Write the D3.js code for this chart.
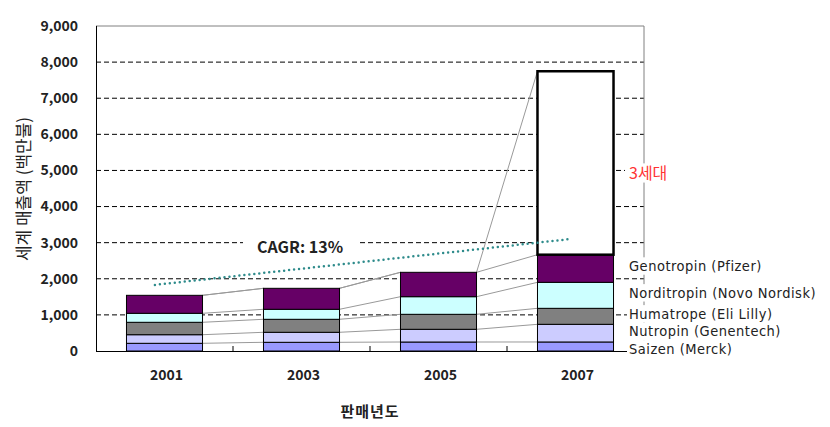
<!DOCTYPE html>
<html>
<head>
<meta charset="utf-8">
<script src="https://cdn.jsdelivr.net/npm/d3@7"></script>
<style>
  body { margin: 0; background: #fff; }
  text { font-family: "Noto Sans CJK KR", "Noto Sans", sans-serif; }
  text.series { font-family: "DejaVu Sans Condensed", "Liberation Sans", sans-serif; font-stretch: condensed; letter-spacing: 0.5px; }
</style>
</head>
<body>
<script>
const years = ["2001", "2003", "2005", "2007"];
const seriesNames = [
  "Saizen (Merck)",
  "Nutropin (Genentech)",
  "Humatrope (Eli Lilly)",
  "Norditropin (Novo Nordisk)",
  "Genotropin (Pfizer)",
];
const saizen = [213, 241, 249, 250];
const nutropin = [238, 277, 352, 489];
const humatrope = [344, 360, 415, 443];
const norditropin = [249, 277, 488, 720];
const genotropin = [498, 581, 675, 765];
const thirdGen = [0, 0, 0, 5080];
const yTicks = [0, 1000, 2000, 3000, 4000, 5000, 6000, 7000, 8000, 9000];
// CAGR trend line ends: [year, value]
const cagrLine = [[2000.86, 1830], [2006.92, 3100]];
const cagrLabel = "CAGR: 13%";
const thirdGenLabel = "3세대";

const w = 830;
const h = 427;
const plot = { left: 96, top: 26, right: 644, bottom: 351 };
const colors = ["#9999ff", "#ccccff", "#808080", "#ccffff", "#660066"];

const svg = d3.select("body").append("svg").attr("width", w).attr("height", h);

// table for d3.stack
const keys = ["s0", "s1", "s2", "s3", "s4", "third"];
const cols = [saizen, nutropin, humatrope, norditropin, genotropin, thirdGen];
const table = years.map((y, i) => {
  const row = { year: y };
  keys.forEach((k, j) => (row[k] = cols[j][i]));
  return row;
});
const stacked = d3.stack().keys(keys)(table);

const x = d3.scaleBand().domain(years)
  .range([plot.left, plot.right])
  .paddingInner(0.445).paddingOuter(0.2225);
const y = d3.scaleLinear().domain([0, 9000]).range([plot.bottom, plot.top]);
const xYear = d3.scaleLinear()
  .domain([+years[0], +years[years.length - 1]])
  .range([x(years[0]) + x.bandwidth() / 2, x(years[3]) + x.bandwidth() / 2]);

// gridlines
svg.append("g").selectAll("line")
  .data(yTicks.filter((d) => d > 0 && d < 9000))
  .enter().append("line")
  .attr("x1", plot.left).attr("x2", plot.right)
  .attr("y1", (d) => y(d)).attr("y2", (d) => y(d))
  .attr("stroke", "#000").attr("stroke-dasharray", "5,3");

// plot border top/right
svg.append("path")
  .attr("d", `M${plot.left},${plot.top}H${plot.right}V${plot.bottom}`)
  .attr("fill", "none").attr("stroke", "#808080");

// series lines between bars
const bw = x.bandwidth();
stacked.forEach((layer) => {
  for (let i = 0; i < years.length - 1; i++) {
    svg.append("line")
      .attr("x1", x(years[i]) + bw).attr("y1", y(layer[i][1]))
      .attr("x2", x(years[i + 1])).attr("y2", y(layer[i + 1][1]))
      .attr("stroke", "#999").attr("stroke-width", 1);
  }
});

// bars
stacked.forEach((layer, j) => {
  const isThird = layer.key === "third";
  svg.append("g").selectAll("rect")
    .data(layer.filter((d) => d[1] - d[0] > 0))
    .enter().append("rect")
    .attr("x", (d) => x(d.data.year))
    .attr("width", bw)
    .attr("y", (d) => y(d[1]))
    .attr("height", (d) => y(d[0]) - y(d[1]))
    .attr("fill", isThird ? "#fff" : colors[j])
    .attr("stroke", "#000")
    .attr("stroke-width", isThird ? 2.5 : 1);
});

// axes
svg.append("g")
  .attr("transform", `translate(0,${plot.bottom})`)
  .call(d3.axisBottom(x).tickSize(0).tickFormat(() => ""))
  .call((g) => g.select(".domain").attr("stroke", "#000")
    .attr("d", `M${plot.left},0.5H${plot.right}`));
// inner ticks between categories
svg.append("g").selectAll("line")
  .data(years.slice(1))
  .enter().append("line")
  .attr("x1", (d) => x(d) - x.step() * x.paddingInner() / 2)
  .attr("x2", (d) => x(d) - x.step() * x.paddingInner() / 2)
  .attr("y1", plot.bottom).attr("y2", plot.bottom - 5)
  .attr("stroke", "#000");

svg.append("line")
  .attr("x1", plot.left + 0.5).attr("x2", plot.left + 0.5)
  .attr("y1", plot.top).attr("y2", plot.bottom + 0.5)
  .attr("stroke", "#000");

svg.append("g").selectAll("text")
  .data(yTicks).enter().append("text")
  .attr("x", 78).attr("y", (d) => y(d))
  .attr("dy", "0.35em").attr("text-anchor", "end")
  .attr("font-size", 14).attr("font-weight", "bold").attr("fill", "#222")
  .text(d3.format(","));

svg.append("g").selectAll("text")
  .data(years).enter().append("text")
  .attr("x", (d) => x(d) + bw / 2 + 2).attr("y", 375)
  .attr("dy", "0.35em").attr("text-anchor", "middle")
  .attr("font-size", 14).attr("font-weight", "bold").attr("fill", "#222")
  .text((d) => d);

// axis titles
svg.append("text")
  .attr("transform", "translate(24,189) rotate(-90)")
  .attr("dy", "0.35em").attr("text-anchor", "middle")
  .attr("font-size", 17).attr("fill", "#222")
  .text("세계 매출액 (백만불)");
svg.append("text")
  .attr("x", 370).attr("y", 412).attr("dy", "0.35em")
  .attr("text-anchor", "middle").attr("letter-spacing", 1)
  .attr("font-size", 15).attr("font-weight", "bold").attr("fill", "#222")
  .text("판매년도");

// CAGR dotted trend
svg.append("line")
  .attr("x1", xYear(cagrLine[0][0])).attr("y1", y(cagrLine[0][1]))
  .attr("x2", xYear(cagrLine[1][0])).attr("y2", y(cagrLine[1][1]))
  .attr("stroke", "#2e8b8b").attr("stroke-width", 2.5)
  .attr("stroke-linecap", "round").attr("stroke-dasharray", "0,5");

// text with a tight white box behind it (hides gridlines)
function labelWithBg(tx, ty, str, opts) {
  const g = svg.append("g");
  const t = g.append("text")
    .attr("class", opts.cls || null)
    .attr("x", tx).attr("y", ty).attr("dy", "0.35em")
    .attr("font-size", opts.size).attr("fill", opts.color)
    .attr("font-weight", opts.weight || "normal")
    .text(str);
  const b = t.node().getBBox();
  const padX = opts.padX || 2;
  g.insert("rect", "text")
    .attr("x", b.x - padX).attr("y", ty - opts.size * 0.6)
    .attr("width", b.width + 2 * padX).attr("height", opts.size * 1.2)
    .attr("fill", "#fff");
}

labelWithBg(257, 247, cagrLabel, { size: 16, weight: "bold", color: "#222", padX: 14 });

// 3세대 label, beside the box
const last = years.length - 1;
const thirdLayer = stacked[stacked.length - 1][last];
labelWithBg(629, y((thirdLayer[0] + thirdLayer[1]) / 2) + 10, thirdGenLabel,
  { size: 16, color: "#ff3333", padX: 4 });

// series labels next to the 2007 bar, top (Genotropin) down, pushed apart
const order = d3.range(seriesNames.length).reverse();
const labelY = order.map((j) => y((stacked[j][last][0] + stacked[j][last][1]) / 2) - 2.5);
for (let i = 1; i < labelY.length; i++) {
  labelY[i] = Math.max(labelY[i], labelY[i - 1] + 17.5);
}
order.forEach((j, i) => {
  labelWithBg(629, labelY[i], seriesNames[j],
    { size: 14.5, color: "#222", padX: 2, cls: "series" });
});
</script>
</body>
</html>
